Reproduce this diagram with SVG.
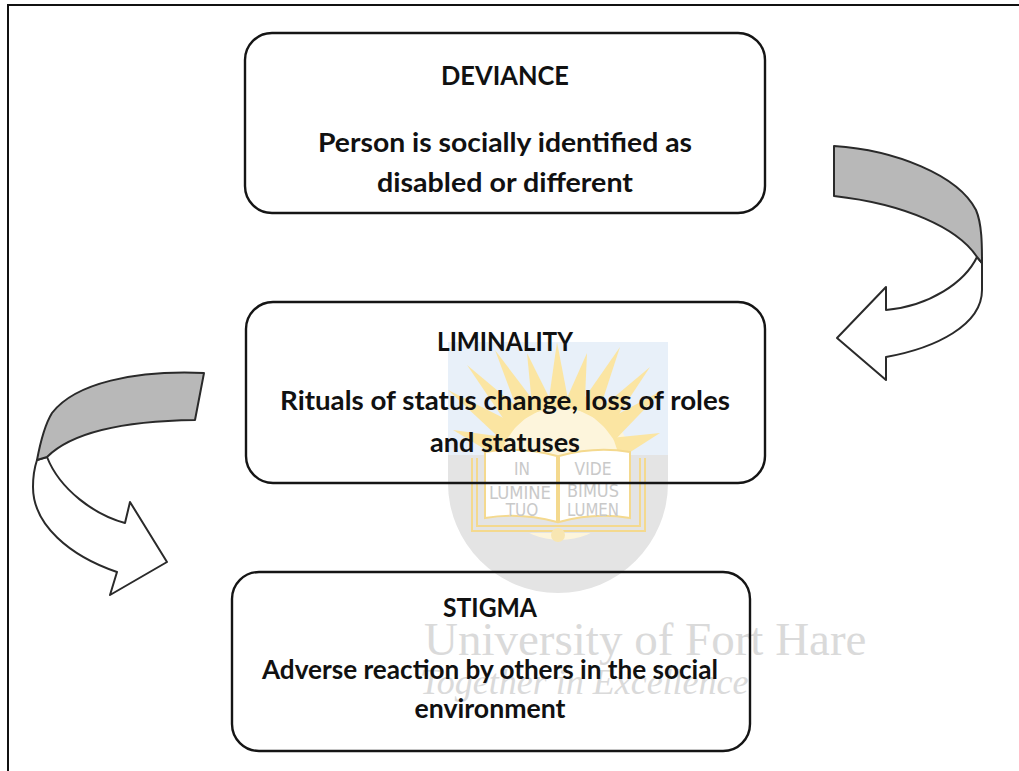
<svg xmlns="http://www.w3.org/2000/svg" width="1019" height="771" viewBox="0 0 1019 771">
<style>
.box{fill:none;stroke:#151515;stroke-width:2.4}
.t{font-family:"Lato","Open Sans","Liberation Sans",sans-serif;font-weight:bold;font-size:27px;fill:#111;text-anchor:middle}
.ribbon{fill:#b8b8b8;stroke:#2a2a2a;stroke-width:2;stroke-linejoin:round}
.body{fill:#fff;stroke:#2a2a2a;stroke-width:2;stroke-linejoin:round}
.ray{fill:#fbe5a2}
.wm{fill:#dadada;font-family:"Liberation Serif",serif}
.lg{fill:#c9c9c9;font-family:"DejaVu Sans Condensed","DejaVu Sans","Liberation Sans",sans-serif;font-size:17px;text-anchor:middle;font-stretch:condensed}
.pg{fill:#fff;stroke:#f4d98e;stroke-width:2}
.bk{fill:none;stroke:#f4d98e;stroke-width:2}
</style>
<rect width="1019" height="771" fill="#fff"/>
<g id="frame" stroke="#111" stroke-width="2" fill="none">
<path d="M7,5 H1019"/>
<path d="M8,5 V771"/>
</g>
<g id="watermark">
<path d="M448,342 H668 V483 A110,110 0 0 1 448,483 Z" fill="#e4e4e4"/>
<rect x="448" y="342" width="220" height="113" fill="#e8f0f9"/>
<circle cx="560" cy="468" r="72" fill="#fdf5dc"/>
<polygon class="ray" points="448,390 517.1,424.7 504.5,442.7"/>
<polygon class="ray" points="467,365 528,416.1 511.6,430.9"/>
<polygon class="ray" points="495,350 540.6,410.1 521.4,420.7"/>
<polygon class="ray" points="527,353 554,407.3 532.8,413.3"/>
<polygon class="ray" points="557,342 569.6,407.7 547.6,408.3"/>
<polygon class="ray" points="587,353 584.4,412.1 563,407.1"/>
<polygon class="ray" points="620,347 596.5,419.1 576.7,409.3"/>
<polygon class="ray" points="650,367 608.1,430.5 591.7,415.9"/>
<polygon class="ray" points="663,390 614.4,440.6 601.2,423"/>
<polygon class="ray" points="660,433 620.2,458.6 613,437.8"/>
<polygon class="ray" points="453,430 507.1,437.5 499.7,458.3"/>
<rect x="470" y="455" width="176" height="78" fill="#e4e4e4"/>
<path class="bk" d="M472,458 V531 H645 V458"/>
<path class="bk" d="M477,458 V526 H640 V458"/>
<path class="pg" d="M485,452 Q520,446 557,456 V522 Q520,512 485,518 Z"/>
<path class="pg" d="M559,456 Q595,446 630,452 V518 Q595,512 559,522 Z"/>
<circle cx="558" cy="535" r="7" fill="#f8e6b2"/>
<text class="lg" x="522" y="475">IN</text>
<text class="lg" x="520" y="499" textLength="62" lengthAdjust="spacingAndGlyphs">LUMINE</text>
<text class="lg" x="522" y="516">TUO</text>
<text class="lg" x="593" y="475" textLength="37" lengthAdjust="spacingAndGlyphs">VIDE</text>
<text class="lg" x="593" y="497" textLength="52" lengthAdjust="spacingAndGlyphs">BIMUS</text>
<text class="lg" x="593" y="516" textLength="52" lengthAdjust="spacingAndGlyphs">LUMEN</text>
<text class="wm" x="424" y="655" font-size="47">University of Fort Hare</text>
<text class="wm" x="420" y="694" font-size="36" font-style="italic">Together in Excellence</text>
</g>
<g id="connectors">
<g id="arrow-right">
<path class="body" d="M977,257 C965,282 930,306 886,310 L886,287 L837,338 L886,380 L886,357 C936,348 982,325 982,290 L982,263 Z"/>
<path class="ribbon" d="M834,146 C895,150 958,175 976,210 C982,224 982,245 982,263 L977,257 C958,228 905,204 834,196 Z"/>
</g>
<g id="arrow-left">
<path class="body" d="M47,457 C60,490 95,515 125,523 L130,502 L167,562 L110,595 L117,572 C70,556 33,525 33,487 C33,476 35,466 37,460 Z"/>
<path class="ribbon" d="M204,373 C135,370 75,383 52,413 C44,426 40,444 37,460 L47,457 C70,434 120,421 195,420 Z"/>
</g>
</g>
<g id="node-deviance">
<rect class="box" x="245" y="33" width="520" height="180" rx="27"/>
<text class="t" x="505" y="85" textLength="128" lengthAdjust="spacingAndGlyphs">DEVIANCE</text>
<text class="t" x="505" y="152" textLength="374" lengthAdjust="spacingAndGlyphs">Person is socially identified as</text>
<text class="t" x="505" y="192" textLength="256" lengthAdjust="spacingAndGlyphs">disabled or different</text>
</g>
<g id="node-liminality">
<rect class="box" x="246" y="302" width="519" height="181" rx="27"/>
<text class="t" x="505" y="351" textLength="136" lengthAdjust="spacingAndGlyphs">LIMINALITY</text>
<text class="t" x="505" y="410" textLength="450" lengthAdjust="spacingAndGlyphs">Rituals of status change, loss of roles</text>
<text class="t" x="505" y="452" textLength="150" lengthAdjust="spacingAndGlyphs">and statuses</text>
</g>
<g id="node-stigma">
<rect class="box" x="232" y="572" width="518" height="179" rx="27"/>
<text class="t" x="490" y="617" textLength="94" lengthAdjust="spacingAndGlyphs">STIGMA</text>
<text class="t" x="490" y="679" textLength="456" lengthAdjust="spacingAndGlyphs">Adverse reaction by others in the social</text>
<text class="t" x="490" y="718" textLength="151" lengthAdjust="spacingAndGlyphs">environment</text>
</g>
</svg>
